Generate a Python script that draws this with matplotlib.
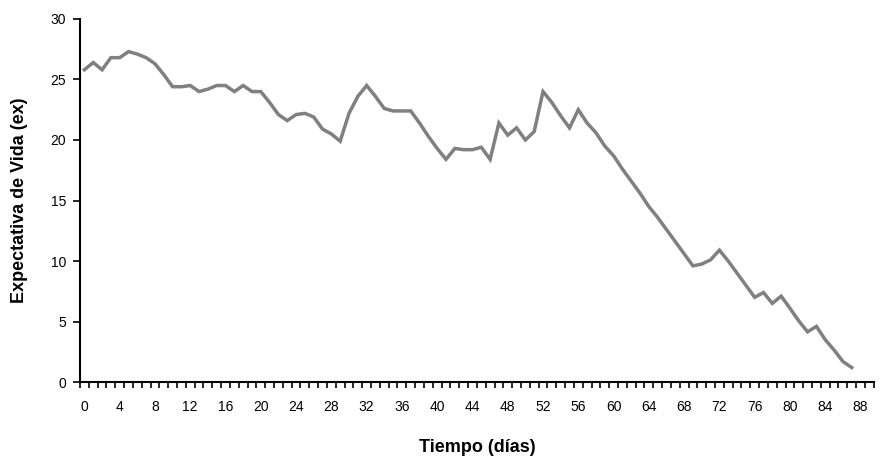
import matplotlib
matplotlib.use('Agg')
import matplotlib.pyplot as plt
import numpy as np

plt.rcParams['font.family'] = ['Liberation Sans', 'DejaVu Sans']

# dias 0..87
dias = list(range(0, 88))
ex = [25.8, 26.4, 25.8, 26.8, 26.8, 27.3, 27.1, 26.8, 26.3, 25.4,
      24.4, 24.4, 24.5, 24.0, 24.2, 24.5, 24.5, 24.0, 24.5, 24.0,
      24.0, 23.1, 22.1, 21.6, 22.1, 22.2, 21.9, 20.9, 20.5, 19.9,
      22.2, 23.6, 24.5, 23.6, 22.6, 22.4, 22.4, 22.4, 21.4, 20.3,
      19.3, 18.4, 19.3, 19.2, 19.2, 19.4, 18.4, 21.4, 20.4, 21.0,
      20.0, 20.7, 24.0, 23.1, 22.0, 21.0, 22.5, 21.4, 20.6, 19.5,
      18.7, 17.6, 16.6, 15.6, 14.5, 13.6, 12.6, 11.6, 10.6, 9.6,
      9.75, 10.1, 10.9, 10.0, 9.0, 8.0, 7.0, 7.4, 6.5, 7.1,
      6.1, 5.05, 4.15, 4.6, 3.5, 2.65, 1.7, 1.2]

etiquetas_x = list(range(0, 89, 4))
etiquetas_y = [0, 5, 10, 15, 20, 25, 30]

fig = plt.figure(figsize=(8.8, 4.62), dpi=100)
ax = fig.add_axes([0.0909, 0.173, 0.902, 0.786])

ax.plot(dias, ex, color='#808080', linewidth=2.5, solid_joinstyle='miter')

ax.set_xlim(-0.5, 89.5)
ax.set_ylim(0, 30)
ax.set_xticks(etiquetas_x)
ax.set_xticklabels([str(v) for v in etiquetas_x])
ax.set_xticks(np.arange(-0.5, 90, 1), minor=True)
ax.set_yticks(etiquetas_y)

ax.tick_params(axis='x', which='major', length=0, pad=13, labelsize=10)
ax.tick_params(axis='x', which='minor', length=4, width=1.2, direction='out')
ax.tick_params(axis='y', which='major', length=5, width=1.2, direction='out', pad=5, labelsize=10)

for s in ['top', 'right']:
    ax.spines[s].set_visible(False)
for s in ['left', 'bottom']:
    ax.spines[s].set_linewidth(1.5)

ax.set_xlabel('Tiempo (días)', fontsize=13, fontweight='bold', labelpad=18)
ax.set_ylabel('Expectativa de Vida (ex)', fontsize=13, fontweight='bold', labelpad=16)

fig.savefig('out.png', dpi=100)
